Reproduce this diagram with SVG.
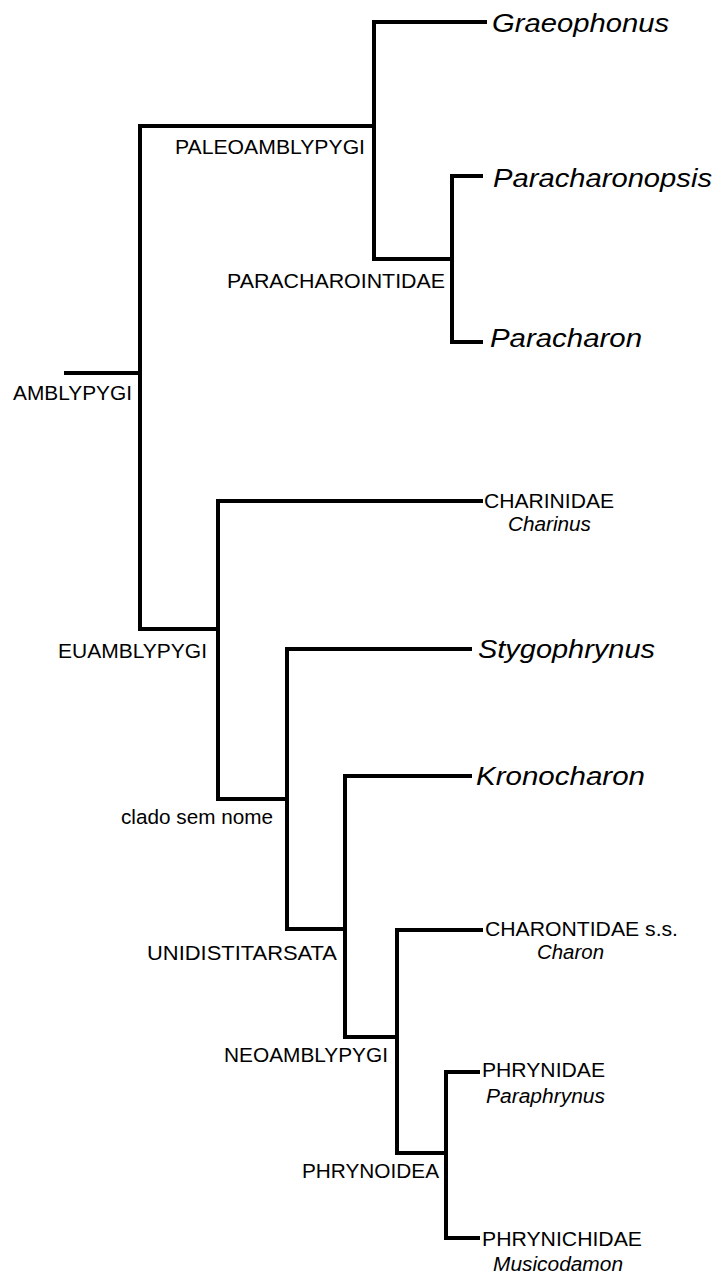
<svg xmlns="http://www.w3.org/2000/svg" width="714" height="1275" viewBox="0 0 714 1275">
<style>
  .br { fill: none; stroke: #000; stroke-width: 4; stroke-linejoin: miter; stroke-linecap: butt; }
  .lbl { font-family: "Liberation Sans", Arial, sans-serif; font-size: 20.5px; fill: #000; }
  .it { font-family: "Liberation Sans", Arial, sans-serif; font-size: 20.5px; font-style: italic; fill: #000; }
  .big { font-family: "Liberation Sans", Arial, sans-serif; font-size: 26px; font-style: italic; fill: #000; }
</style>
<rect width="714" height="1275" fill="#fff"/>
<g id="connectors">
  <path class="br" d="M64 373 H140"/>
  <path class="br" d="M376 126 H140 V629 H219"/>
  <path class="br" d="M487 22 H374 V259 H453"/>
  <path class="br" d="M483 176 H452 V342 H483"/>
  <path class="br" d="M483 501 H218 V799 H288"/>
  <path class="br" d="M472 649 H287 V929 H346"/>
  <path class="br" d="M472 776 H345 V1037 H398"/>
  <path class="br" d="M483 930 H397 V1153 H447"/>
  <path class="br" d="M480 1072 H446 V1238 H480"/>
</g>
<g id="amblypygi"><text class="lbl" x="13" y="400" textLength="119" lengthAdjust="spacingAndGlyphs">AMBLYPYGI</text></g>
<g id="paleoamblypygi"><text class="lbl" x="175" y="154" textLength="190" lengthAdjust="spacingAndGlyphs">PALEOAMBLYPYGI</text></g>
<g id="paracharointidae"><text class="lbl" x="227" y="288" textLength="218" lengthAdjust="spacingAndGlyphs">PARACHAROINTIDAE</text></g>
<g id="graeophonus"><text class="big" x="492" y="32" textLength="177" lengthAdjust="spacingAndGlyphs">Graeophonus</text></g>
<g id="paracharonopsis"><text class="big" x="493" y="187" textLength="219" lengthAdjust="spacingAndGlyphs">Paracharonopsis</text></g>
<g id="paracharon"><text class="big" x="490" y="347" textLength="152" lengthAdjust="spacingAndGlyphs">Paracharon</text></g>
<g id="euamblypygi"><text class="lbl" x="58" y="658" textLength="149" lengthAdjust="spacingAndGlyphs">EUAMBLYPYGI</text></g>
<g id="charinidae">
  <text class="lbl" x="484" y="508" textLength="130" lengthAdjust="spacingAndGlyphs">CHARINIDAE</text>
  <text class="it" x="508" y="531" textLength="83" lengthAdjust="spacingAndGlyphs">Charinus</text>
</g>
<g id="clado-sem-nome"><text class="lbl" x="121" y="824" textLength="152" lengthAdjust="spacingAndGlyphs">clado sem nome</text></g>
<g id="stygophrynus"><text class="big" x="478" y="658" textLength="177" lengthAdjust="spacingAndGlyphs">Stygophrynus</text></g>
<g id="kronocharon"><text class="big" x="476" y="785" textLength="169" lengthAdjust="spacingAndGlyphs">Kronocharon</text></g>
<g id="unidistitarsata"><text class="lbl" x="147" y="960" textLength="190" lengthAdjust="spacingAndGlyphs">UNIDISTITARSATA</text></g>
<g id="charontidae">
  <text class="lbl" x="485" y="936" textLength="193" lengthAdjust="spacingAndGlyphs">CHARONTIDAE s.s.</text>
  <text class="it" x="537" y="959" textLength="67" lengthAdjust="spacingAndGlyphs">Charon</text>
</g>
<g id="neoamblypygi"><text class="lbl" x="224" y="1062" textLength="164" lengthAdjust="spacingAndGlyphs">NEOAMBLYPYGI</text></g>
<g id="phrynoidea"><text class="lbl" x="302" y="1178" textLength="137" lengthAdjust="spacingAndGlyphs">PHRYNOIDEA</text></g>
<g id="phrynidae">
  <text class="lbl" x="482" y="1077" textLength="123" lengthAdjust="spacingAndGlyphs">PHRYNIDAE</text>
  <text class="it" x="486" y="1103" textLength="119" lengthAdjust="spacingAndGlyphs">Paraphrynus</text>
</g>
<g id="phrynichidae">
  <text class="lbl" x="482" y="1246" textLength="160" lengthAdjust="spacingAndGlyphs">PHRYNICHIDAE</text>
  <text class="it" x="493" y="1271" textLength="130" lengthAdjust="spacingAndGlyphs">Musicodamon</text>
</g>
</svg>
